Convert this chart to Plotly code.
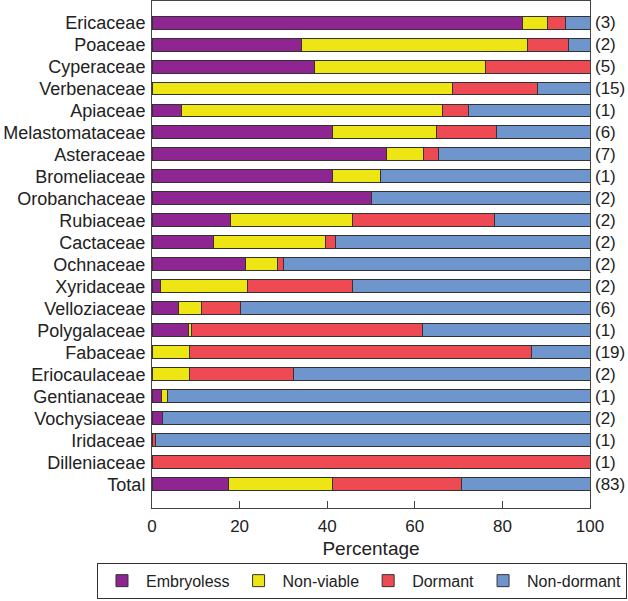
import plotly.graph_objects as go

families = ["Ericaceae", "Poaceae", "Cyperaceae", "Verbenaceae", "Apiaceae",
            "Melastomataceae", "Asteraceae", "Bromeliaceae", "Orobanchaceae",
            "Rubiaceae", "Cactaceae", "Ochnaceae", "Xyridaceae", "Velloziaceae",
            "Polygalaceae", "Fabaceae", "Eriocaulaceae", "Gentianaceae",
            "Vochysiaceae", "Iridaceae", "Dilleniaceae", "Total"]
counts = ["(3)", "(2)", "(5)", "(15)", "(1)", "(6)", "(7)", "(1)", "(2)", "(2)",
          "(2)", "(2)", "(2)", "(6)", "(1)", "(19)", "(2)", "(1)", "(2)", "(1)",
          "(1)", "(83)"]

# segment widths (percent)
embryoless = [84.6, 34.1, 37.2, 0.0, 6.8, 41.3, 53.5, 41.3, 50.0, 18.0, 14.0,
              21.3, 2.0, 6.1, 8.4, 0.0, 0.0, 2.2, 2.5, 0.0, 0.0, 17.4]
non_viable = [5.6, 51.7, 38.9, 68.7, 59.6, 23.7, 8.5, 10.9, 0.0, 27.8, 25.7,
              7.3, 19.8, 5.1, 0.6, 8.5, 8.5, 1.3, 0.0, 0.0, 0.0, 23.9]
dormant = [4.3, 9.4, 23.9, 19.4, 5.8, 13.7, 3.4, 0.0, 0.0, 32.5, 2.2,
           1.4, 24.0, 8.9, 52.7, 78.2, 23.7, 0.0, 0.0, 0.9, 100.0, 29.3]
non_dormant = [5.5, 4.8, 0.0, 11.9, 27.8, 21.3, 34.6, 47.8, 50.0, 21.7, 58.1,
               70.0, 54.2, 79.9, 38.3, 13.3, 67.8, 96.5, 97.5, 99.1, 0.0, 29.4]

series = [("Embryoless", embryoless, "#8E2590"),
          ("Non-viable", non_viable, "#EDE614"),
          ("Dormant", dormant, "#EE4A53"),
          ("Non-dormant", non_dormant, "#6F95CD")]

fig = go.Figure()
for name, vals, col in series:
    fig.add_trace(go.Bar(
        y=families, x=vals, name=name, orientation="h",
        marker=dict(color=col, line=dict(color="#333333", width=1)),
        width=0.59,
    ))

for fam, c in zip(families, counts):
    fig.add_annotation(x=1.0, xref="paper", y=fam, yref="y", text=c,
                       showarrow=False, xanchor="left", xshift=3,
                       font=dict(size=17, color="#222222"))

fig.update_layout(
    barmode="stack",
    width=628, height=601,
    margin=dict(l=152, r=38, t=1, b=93),
    plot_bgcolor="white", paper_bgcolor="white",
    font=dict(family="Liberation Sans, Arial, sans-serif", size=18, color="#222222"),
    legend=dict(orientation="h", xref="paper", x=-0.1256, xanchor="left",
                y=-0.108, yanchor="top", itemwidth=38,
                bordercolor="#333333", borderwidth=1, font=dict(size=16),
                traceorder="normal"),
    xaxis=dict(range=[0, 100], tickvals=[0, 20, 40, 60, 80, 100],
               ticks="inside", ticklen=7, tickcolor="#444444",
               showgrid=False, zeroline=False,
               showline=True, linecolor="#444444", linewidth=1, mirror=True,
               title=dict(text="Percentage", font=dict(size=19), standoff=6),
               ticklabelstandoff=3, tickfont=dict(size=17)),
    yaxis=dict(categoryorder="array", categoryarray=families,
               tickmode="array", tickvals=families, ticktext=families,
               range=[21 + 1.08, -0.98], showgrid=False, zeroline=False,
               showline=True, linecolor="#444444", linewidth=1, mirror=True,
               ticks="", ticklabelstandoff=2, tickfont=dict(size=18)),
    showlegend=True,
)

fig.write_html("out.html", config={"displayModeBar": False},
               post_script="document.body.style.margin='0';document.body.style.overflow='hidden';")
